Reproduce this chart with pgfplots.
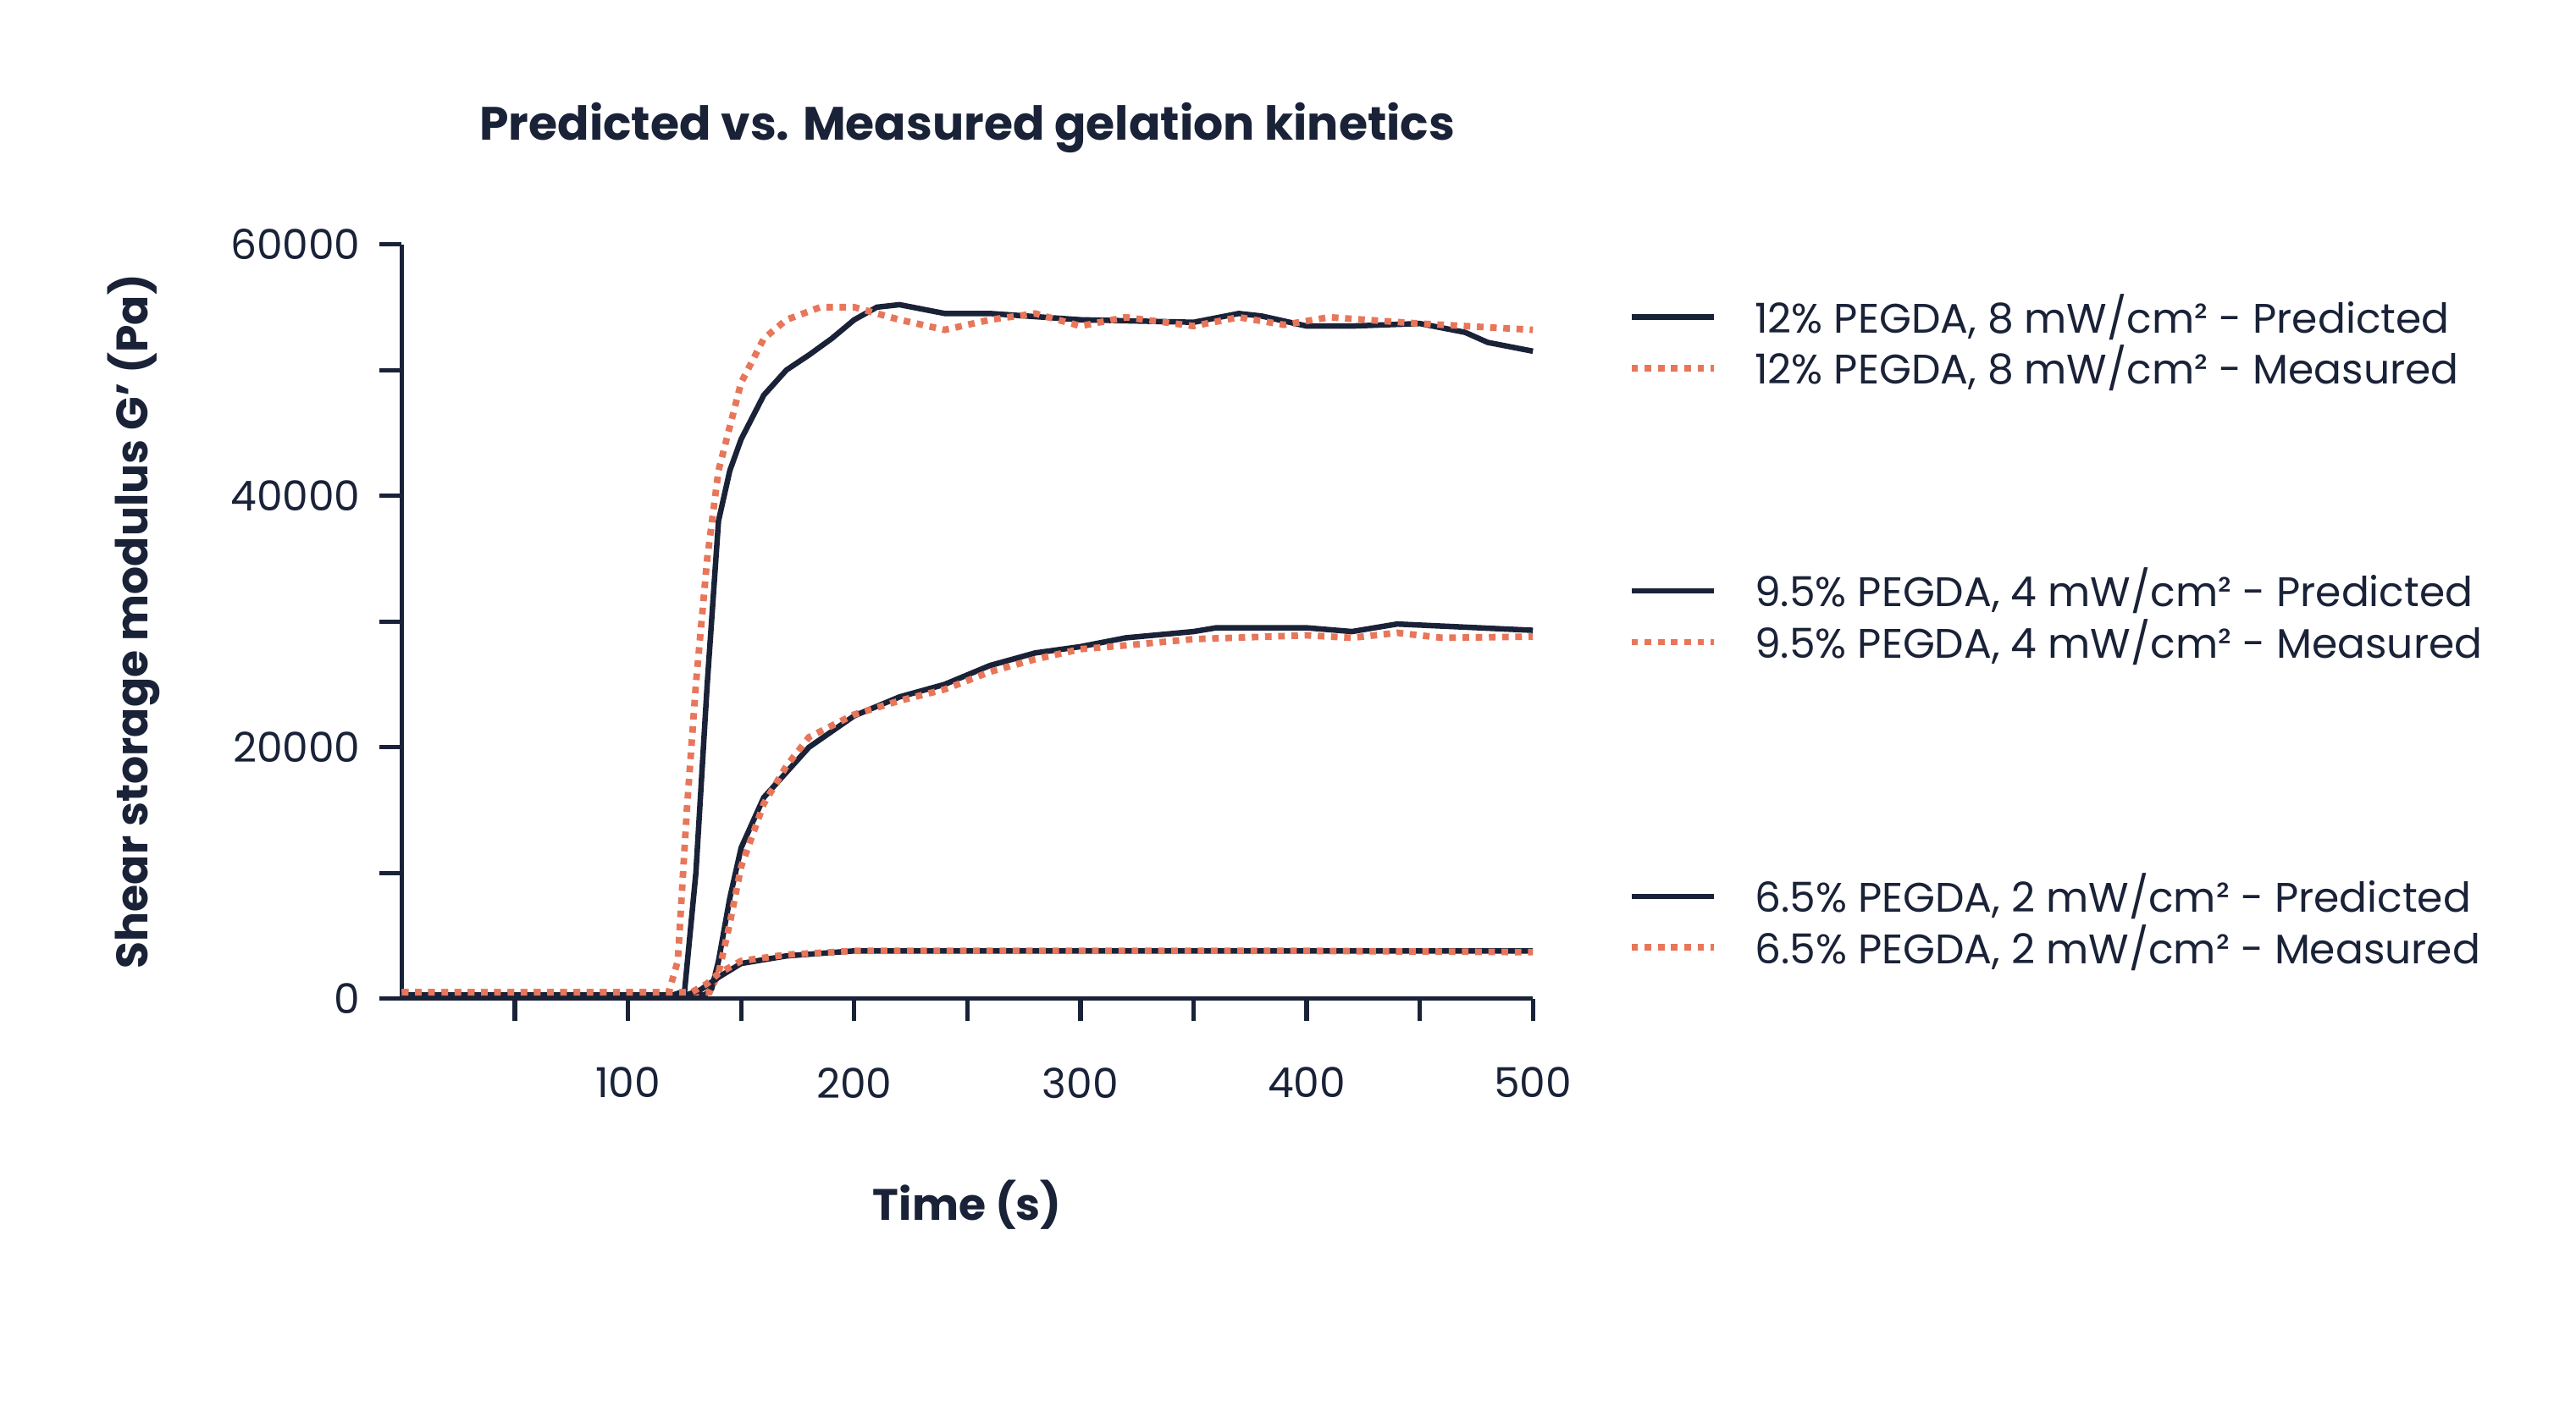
\documentclass[border=0pt]{standalone}
\usepackage{pgfplots}
\pgfplotsset{compat=1.18}
\usepackage{fontspec}
\setmainfont{Poppins}
\definecolor{navy}{HTML}{1A2238}
\definecolor{coral}{HTML}{E8765A}
\begin{document}
\begin{tikzpicture}[x=0.3pt,y=0.3pt]
\path (0,0) rectangle (1560,855);
\begin{axis}[at={(73pt,75pt)},anchor=origin,scale only axis,
 width=205.5pt,height=137.1pt,xmin=0,xmax=500,ymin=0,ymax=60000,
 axis x line*=bottom,axis y line*=left,axis line style={navy,line width=0.8pt},
 xtick={100,200,300,400,500},minor xtick={50,150,250,350,450},
 ytick={0,20000,40000,60000},minor ytick={10000,30000,50000},
 tick align=outside,major tick length=4pt,minor tick length=4pt,
 tick style={navy,line width=0.8pt},
 scaled y ticks=false,
 yticklabel style={/pgf/number format/.cd,fixed,1000 sep={}},
 /pgf/number format/assume math mode=true,
 ticklabel style={font=\fontsize{7.5}{9}\selectfont,text=navy},
 xticklabel style={yshift=-5pt},
 xlabel={Time (s)},ylabel={Shear storage modulus G’ (Pa)},
 label style={font=\fontsize{8}{10}\selectfont\bfseries,text=navy},
 xlabel style={yshift=-8pt},ylabel style={yshift=6pt},
 title={Predicted vs. Measured gelation kinetics},
 title style={font=\fontsize{8.5}{10}\selectfont\bfseries,text=navy,yshift=7pt},
 clip=false]
\addplot[navy,line width=1pt] coordinates {(0,300)(120,300)(125,600)(130,10000)(135,25000)(140,38000)(145,42000)(150,44500)(160,48000)(170,50000)(180,51200)(190,52500)(200,54000)(210,55000)(220,55200)(240,54500)(260,54500)(300,54000)(350,53800)(370,54500)(380,54300)(400,53500)(420,53500)(450,53700)(470,53000)(480,52200)(500,51500)};
\addplot[coral,line width=1.2pt,dash pattern=on 1.2pt off 1.2pt] coordinates {(0,500)(118,500)(122,3000)(126,15000)(130,25000)(135,35000)(140,42000)(150,49000)(160,52500)(170,54000)(185,55000)(200,55000)(220,54000)(240,53200)(260,54000)(280,54500)(300,53500)(320,54200)(350,53500)(370,54200)(390,53600)(410,54200)(450,53700)(500,53200)};
\addplot[navy,line width=1pt] coordinates {(0,300)(134,300)(137,800)(140,3000)(145,8000)(150,12000)(160,16000)(170,18000)(180,20000)(200,22500)(220,24000)(240,25000)(260,26500)(280,27500)(300,28000)(320,28700)(350,29200)(360,29500)(400,29500)(420,29200)(440,29800)(500,29300)};
\addplot[coral,line width=1.2pt,dash pattern=on 1.2pt off 1.2pt] coordinates {(0,500)(136,500)(140,2000)(145,6000)(150,10500)(160,15500)(170,18500)(180,20800)(200,22600)(220,23700)(240,24600)(260,26000)(280,27000)(300,27800)(320,28100)(350,28600)(400,28900)(420,28700)(440,29100)(460,28700)(500,28800)};
\addplot[navy,line width=1pt] coordinates {(0,300)(126,300)(132,700)(140,1700)(150,2800)(170,3400)(200,3800)(300,3800)(400,3800)(500,3800)};
\addplot[coral,line width=1.2pt,dash pattern=on 1.2pt off 1.2pt] coordinates {(0,500)(128,500)(135,1200)(140,2000)(150,3000)(170,3500)(200,3800)(300,3800)(400,3800)(500,3700)};
\end{axis}
\foreach \y/\t in {663/{12\% PEGDA, 8 mW/cm² - Predicted},632/{12\% PEGDA, 8 mW/cm² - Measured},497/{9.5\% PEGDA, 4 mW/cm² - Predicted},466/{9.5\% PEGDA, 4 mW/cm² - Measured},312/{6.5\% PEGDA, 2 mW/cm² - Predicted},281/{6.5\% PEGDA, 2 mW/cm² - Measured}}{
 \node[anchor=west,text=navy,font=\fontsize{7.5}{9}\selectfont,inner sep=0] at (1062,\y) {\t};}
\foreach \y in {663,497,312}{\draw[navy,line width=1pt] (988,\y)--(1038,\y);}
\foreach \y in {632,466,281}{\draw[coral,line width=1.2pt,dash pattern=on 1.2pt off 1.2pt] (988,\y)--(1038,\y);}
\end{tikzpicture}
\end{document}
